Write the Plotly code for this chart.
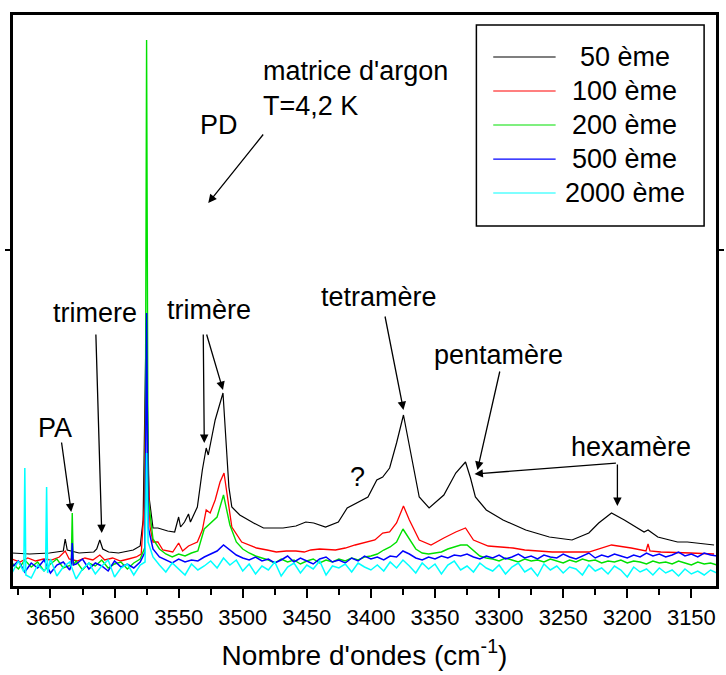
import plotly.graph_objects as go

# wavenumber grid (cm-1) used by the noisy low-concentration spectra
wn_grid = [3680, 3675, 3670, 3665, 3660, 3655, 3650, 3645, 3640, 3635,
           3630, 3625, 3620, 3615, 3610, 3605, 3600, 3595, 3590, 3585,
           3580, 3575, 3570, 3565, 3560, 3555, 3550, 3545, 3540, 3535,
           3530, 3525, 3520, 3515, 3510, 3505, 3500, 3495, 3490, 3485,
           3480, 3475, 3470, 3465, 3460, 3455, 3450, 3445, 3440, 3435,
           3430, 3425, 3420, 3415, 3410, 3405, 3400, 3395, 3390, 3385,
           3380, 3375, 3370, 3365, 3360, 3355, 3350, 3345, 3340, 3335,
           3330, 3325, 3320, 3315, 3310, 3305, 3300, 3295, 3290, 3285,
           3280, 3275, 3270, 3265, 3260, 3255, 3250, 3245, 3240, 3235,
           3230, 3225, 3220, 3215, 3210, 3205, 3200, 3195, 3190, 3185,
           3180, 3175, 3170, 3165, 3160, 3155, 3150, 3145, 3140, 3135,
           3130]

# 50 eme
black_wn = [3680, 3666.2, 3650.8, 3643.1, 3640, 3638.5, 3636.9, 3627.7, 3616.2, 3613.9,
            3611.5, 3609.2, 3604.6, 3596.9, 3585.4, 3580, 3577.7, 3575.4, 3573.1, 3570,
            3566.2, 3558.5, 3553.1, 3550, 3548.5, 3545.4, 3542.3, 3540.8, 3535.4, 3531.5,
            3528.5, 3526.9, 3521.5, 3515.4, 3513.8, 3510.8, 3508.5, 3502.3, 3491.5, 3483.8,
            3468.5, 3458.5, 3450.8, 3444.6, 3435.4, 3425.4, 3418.5, 3410, 3402.3, 3395.4,
            3390.8, 3385.4, 3380, 3374.6, 3368.5, 3362.3, 3354.6, 3343.1, 3333.8, 3331.5,
            3326.2, 3322.3, 3318.5, 3310, 3296.9, 3279.2, 3260.8, 3243.1, 3230, 3222.3,
            3212.3, 3202.3, 3186.9, 3183.8, 3176.2, 3160.8, 3153.1, 3132.3]
black_h = [34, 33, 34, 35, 36, 48, 37, 34, 35, 38,
           47, 38, 35, 34, 37, 41, 67, 260, 90, 59,
           59, 56, 55, 70, 60, 65, 73, 65, 80, 117,
           139, 132, 167, 194, 160, 100, 80, 72, 64, 59,
           59, 61, 65, 64, 60, 65, 79, 85, 90, 107,
           110, 119, 144, 172, 130, 90, 79, 92, 114, 117,
           125, 109, 90, 77, 67, 57, 50, 47, 54, 64,
           74, 67, 55, 57, 50, 45, 45, 42]

# 100 eme
red_wn = [3680, 3673.8, 3667.7, 3661.5, 3655.4, 3649.2, 3643.1, 3638.5, 3635.4, 3629.2,
          3623.1, 3616.9, 3611.5, 3607.7, 3601.5, 3595.4, 3589.2, 3583.1, 3579.2, 3576.9,
          3575.4, 3573.8, 3572.3, 3570, 3566.2, 3562.3, 3554.6, 3550, 3546.9, 3542.3,
          3535.4, 3531.5, 3528.5, 3525.4, 3521.5, 3517.7, 3514.6, 3512.3, 3508.5, 3500.8,
          3489.2, 3481, 3473.8, 3466, 3458.5, 3452, 3446.9, 3440, 3427.7, 3420,
          3412.3, 3396.9, 3390.8, 3385.4, 3380, 3374.6, 3370, 3362.3, 3353.1, 3343.1,
          3333.8, 3326.2, 3320, 3308.5, 3300, 3289.2, 3280, 3270, 3258.5, 3245,
          3230, 3212.3, 3196.9, 3185.4, 3183.8, 3182.3, 3173.8, 3150.8, 3132.3]
red_h = [28, 25, 29, 26, 28, 27, 30, 36, 28, 26,
         29, 27, 32, 27, 29, 26, 28, 30, 33, 80,
         230, 120, 60, 45, 45, 37, 35, 44, 36, 41,
         45, 57, 77, 74, 87, 105, 114, 94, 60, 45,
         39, 37, 35, 36, 36, 35, 37, 38, 37, 39,
         42, 47, 54, 55, 64, 81, 67, 47, 42, 49,
         55, 59, 47, 41, 40, 39, 37, 36, 35, 35,
         35, 42, 39, 36, 43, 36, 35, 34, 33]

# 200 eme (on wn_grid) + narrow lines
green_h = [24, 18, 27, 20, 25, 16, 23, 28, 19, 22, 26, 17, 24, 21, 27, 19, 23, 25, 18, 24, 28,
           547,
           48, 38, 33, 30, 33, 31, 34, 36, 58, 64, 70, 92, 62, 45, 38, 34, 31, 29,
           27, 24, 28, 25, 27, 23, 26, 28, 24, 27, 25, 28, 26, 29, 27, 30, 31,
           33, 37, 40, 45, 58, 48, 38, 34, 33, 34, 35, 38, 40, 42, 42, 36, 31, 29,
           28, 26, 29, 27, 25, 28, 26, 27, 25, 28, 26, 24, 27, 25, 28, 26, 27, 24,
           26, 25, 27, 24, 26, 25, 23, 26, 24, 25, 23, 26, 24, 22, 25, 23, 24, 22]
green_spk_wn = [3633.8, 3633.0, 3632.2, 3576.2, 3573.8]
green_spk_h = [22, 74, 22, 40, 90]

# 500 eme
blue_h = [20, 26, 15, 24, 19, 27, 14, 22, 25, 17, 23, 28, 18, 24, 21, 16, 26, 20, 23, 19, 25,
          274,
          38, 30, 27, 24, 28, 25, 27, 26, 30, 33, 36, 42, 37, 32, 29, 27, 30, 26,
          28, 24, 27, 31, 25, 29, 26, 23, 28, 30, 25, 27, 24, 29, 26, 31, 28,
          30, 27, 31, 30, 36, 33, 29, 27, 30, 28, 31, 29, 32, 31, 33, 30, 28, 31,
          29, 32, 28, 30, 33, 29, 31, 28, 32, 30, 29, 33, 30, 28, 31, 34, 29, 32,
          30, 33, 31, 29, 32, 30, 34, 31, 33, 30, 32, 35, 31, 33, 30, 34, 32, 31]
blue_spk_wn = [3633.8, 3633.0, 3632.2, 3576.2, 3573.8]
blue_spk_h = [22, 44, 22, 35, 60]

# 2000 eme
cyan_h = [14, 26, 119, 9, 22, 16, 28, 11, 20, 25, 8, 18, 24, 13, 21, 27, 10, 19, 23, 12, 22,
          134,
          30, 22, 15, 24, 18, 12, 23, 17, 21, 26, 19, 29, 22, 27, 16, 23, 13, 21,
          17, 25, 11, 20, 24, 14, 22, 18, 26, 12, 21, 19, 23, 15, 24, 20, 17,
          22, 16, 25, 19, 27, 21, 14, 24, 18, 23, 13, 22, 26, 17, 21, 15, 24, 19,
          16, 22, 13, 20, 24, 15, 19, 11, 23, 17, 21, 14, 20, 18, 12, 22, 16, 19,
          13, 21, 17, 10, 20, 15, 18, 12, 19, 14, 17, 11, 18, 13, 16, 12, 17, 14]
cyan_spk_wn = [3670.8, 3669.2, 3653.8, 3653.0, 3652.2, 3576.2, 3573.8]
cyan_spk_h = [15, 12, 18, 100, 14, 25, 45]

labels = ["50 ème", "100 ème", "200 ème", "500 ème", "2000 ème"]
colors = ["#000000", "#ff0000", "#00e000", "#0000ff", "#00ffff"]
widths = [1.2, 1.3, 1.4, 1.5, 1.5]


def merge(grid_h, spk_wn, spk_h):
    pts = sorted(zip(wn_grid + spk_wn, grid_h + spk_h), reverse=True)
    return [p[0] for p in pts], [p[1] for p in pts]


g_wn, g_h = merge(green_h, green_spk_wn, green_spk_h)
b_wn, b_h = merge(blue_h, blue_spk_wn, blue_spk_h)
c_wn, c_h = merge(cyan_h, cyan_spk_wn, cyan_spk_h)

series = [(black_wn, black_h), (red_wn, red_h), (g_wn, g_h), (b_wn, b_h), (c_wn, c_h)]

FONT = "Arial, Liberation Sans, sans-serif"

fig = go.Figure()
for (xs, ys), name, col, w in zip(series, labels, colors, widths):
    fig.add_trace(go.Scatter(x=xs, y=ys, mode="lines", name=name,
                             line=dict(color=col, width=w)))

# peak labels and arrows (tail wn, tail h, head wn, head h)
arrows = [(3483.1, 454, 3526.9, 384),
          (3641.5, 146, 3633.8, 75),
          (3614.6, 254, 3610.0, 54),
          (3530.8, 254, 3530.0, 144),
          (3528.5, 254, 3515.4, 197),
          (3389.2, 272, 3374.6, 177),
          (3299.2, 217, 3316.9, 117),
          (3207.7, 124, 3319.2, 113),
          (3207.7, 124, 3207.7, 81)]
for tx, ty, hx, hy in arrows:
    fig.add_annotation(x=hx, y=hy, ax=tx, ay=ty, xref="x", yref="y", axref="x", ayref="y",
                       text="", showarrow=True, arrowhead=2, arrowsize=1.3,
                       arrowwidth=1.3, arrowcolor="black")

peak_text = [("PD", 3518.5, 462), ("PA", 3646.2, 159), ("trimere", 3615.4, 274),
             ("trimère", 3526.2, 277), ("tetramère", 3393.8, 290),
             ("pentamère", 3300.8, 232), ("hexamère", 3196.9, 140), ("?", 3410.8, 110)]
for txt, x, y in peak_text:
    fig.add_annotation(x=x, y=y, text=txt, showarrow=False, xanchor="center",
                       yanchor="middle", font=dict(size=27, color="black", family=FONT))

fig.add_annotation(x=3485.4, y=499, text="matrice d'argon<br>T=4,2 K", showarrow=False,
                   xanchor="left", yanchor="middle", align="left",
                   font=dict(size=27, color="black", family=FONT))

# frame round the plot area
fig.add_shape(type="rect", xref="paper", yref="paper", x0=0, x1=1, y0=0, y1=1,
              line=dict(color="black", width=2), layer="above")

# boxed legend, centred labels like the original
fig.add_shape(type="rect", xref="paper", yref="paper", x0=0.6587, x1=0.9817,
              y0=0.630, y1=0.9808, line=dict(color="black", width=1.5),
              fillcolor="white", layer="above")
row_y = [0.925, 0.8656, 0.8063, 0.7469, 0.6876]
for name, col, ry in zip(labels, colors, row_y):
    fig.add_shape(type="line", xref="paper", yref="paper", x0=0.6826, x1=0.7711,
                  y0=ry, y1=ry, line=dict(color=col, width=1.2), layer="above")
    fig.add_annotation(x=0.8694, y=ry, xref="paper", yref="paper", text=name,
                       showarrow=False, xanchor="center", yanchor="middle",
                       font=dict(size=27, color="black", family=FONT))

fig.update_layout(
    width=726, height=675,
    margin=dict(l=12, r=2, t=14, b=88),
    paper_bgcolor="white", plot_bgcolor="white",
    showlegend=False,
    font=dict(family=FONT, color="black"),
)
fig.update_xaxes(
    range=[3680, 3130], tick0=3650, dtick=50,
    ticks="outside", ticklen=9, tickwidth=1.5, tickcolor="black",
    minor=dict(ticks="outside", ticklen=6, dtick=25, tickwidth=1.5, tickcolor="black"),
    showline=True, linewidth=2, linecolor="black", mirror=True,
    showgrid=False, zeroline=False,
    tickfont=dict(size=22, family=FONT, color="black"),
    ticklabelstandoff=1,
    title=dict(text="Nombre d'ondes (cm<sup>-1</sup>)", font=dict(size=28, family=FONT, color="black"),
               standoff=16),
)
fig.update_yaxes(
    range=[0, 573], tickvals=[337], showticklabels=False,
    ticks="outside", ticklen=5, tickwidth=1.5, tickcolor="black",
    showline=True, linewidth=2, linecolor="black", mirror="ticks",
    showgrid=False, zeroline=False,
)

fig.write_html("out.html", config={"displayModeBar": False},
               post_script="document.body.style.margin='0';")
